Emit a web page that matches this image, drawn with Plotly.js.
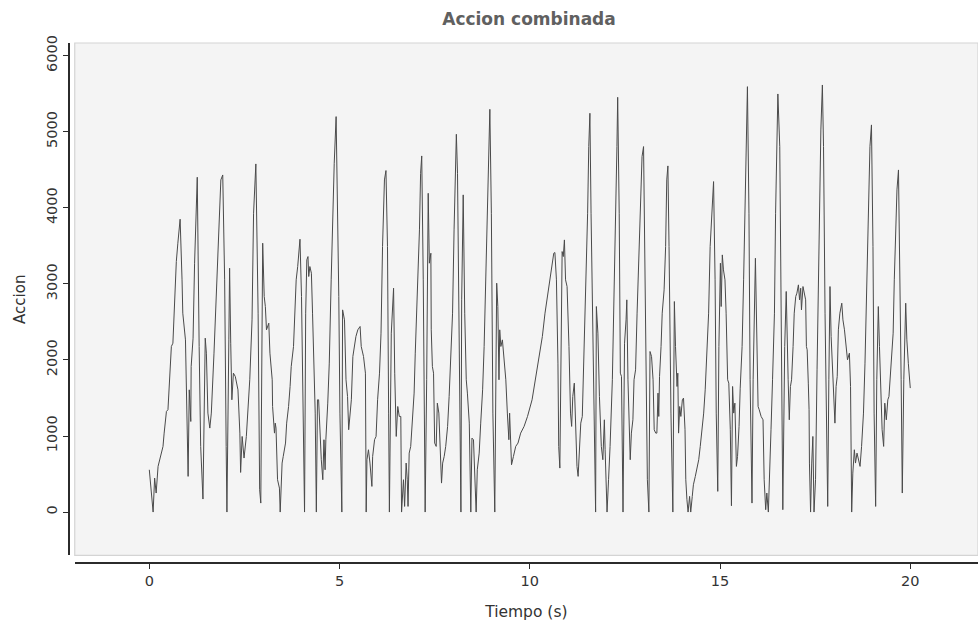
<!DOCTYPE html>
<html>
<head>
<meta charset="utf-8">
<script src="https://cdn.plot.ly/plotly-3.0.1.min.js"></script>
<style>html,body{margin:0;padding:0;background:#fff;}#chart{width:978px;height:625px;}</style>
</head>
<body>
<div id="chart"></div>
<script>
// Tiempo (s) and Accion values
const tiempo = [
0.00,0.05,0.10,0.14,0.18,0.23,0.27,0.36,0.39,0.45,0.49,0.53,0.58,0.62,0.67,0.71,0.75,0.81,0.86,0.88,
0.95,0.97,1.00,1.02,1.05,1.09,1.10,1.15,1.19,1.23,1.26,1.31,1.35,1.41,1.47,1.50,1.54,1.59,1.63,1.70,
1.76,1.82,1.88,1.93,1.98,2.02,2.04,2.09,2.11,2.14,2.17,2.21,2.26,2.33,2.38,2.40,2.44,2.49,2.55,2.64,
2.70,2.74,2.80,2.86,2.90,2.93,2.96,2.98,3.02,3.05,3.08,3.14,3.17,3.23,
3.24,3.29,3.31,3.33,3.37,3.42,3.44,3.49,3.52,3.58,3.61,3.66,3.70,3.73,3.79,3.82,3.86,3.90,3.93,3.96,
4.00,4.03,4.08,4.11,4.14,4.17,4.19,4.22,4.26,4.29,4.34,4.36,4.39,4.42,4.45,4.49,4.52,4.56,4.59,4.62,
4.64,4.69,4.73,4.78,4.82,4.86,4.91,4.94,4.98,5.01,5.06,5.08,5.13,5.17,5.21,5.24,5.28,5.31,5.35,5.39,
5.43,5.48,5.54,5.57,5.63,5.68,5.70,5.72,5.76,5.80,5.85,5.87,5.92,5.96,6.00,6.05,6.09,6.13,6.18,6.22,
6.26,6.29,6.31,6.36,6.40,6.42,6.45,6.49,6.53,6.57,
6.61,6.63,6.68,6.71,6.75,6.78,6.80,6.83,6.87,6.92,6.96,6.99,7.03,7.06,7.10,7.13,7.16,7.20,7.22,7.25,
7.29,7.33,7.36,7.40,7.41,7.44,7.47,7.50,7.54,7.57,7.61,7.64,7.68,7.71,7.75,7.79,7.84,7.88,7.92,7.97,
8.01,8.05,8.07,8.10,8.13,8.16,8.19,8.21,8.25,8.29,8.33,8.36,8.41,8.45,8.48,8.52,8.55,8.59,8.62,8.67,
8.71,8.76,8.80,8.84,8.89,8.92,8.95,8.99,9.03,9.08,9.11,9.13,9.16,9.19,9.21,9.24,9.28,9.33,9.37,9.41,
9.45,9.47,9.52,9.57,9.63,9.69,9.76,9.85,9.94,
10.06,10.15,10.24,10.33,10.40,10.46,10.52,10.57,10.63,10.66,10.70,10.74,10.76,10.79,10.82,10.85,10.88,10.91,10.94,10.98,
11.03,11.07,11.10,11.13,11.17,11.20,11.24,11.27,11.31,11.34,11.38,11.41,11.45,11.48,11.52,11.55,11.58,11.61,11.66,11.69,
11.73,11.75,11.79,11.83,11.88,11.92,11.96,11.98,12.01,12.03,12.07,12.11,12.17,12.21,12.25,12.29,12.31,12.35,12.38,12.41,
12.45,12.49,12.53,12.55,12.58,12.60,12.64,12.67,12.71,12.74,12.78,12.82,12.87,12.91,12.95,12.99,13.02,13.06,13.09,13.13,
13.16,13.20,13.24,13.27,13.31,
13.34,13.37,13.39,13.41,13.45,13.48,13.53,13.57,13.60,13.63,13.66,13.71,13.76,13.80,13.83,13.87,13.89,13.91,13.94,13.97,
14.01,14.04,14.08,14.10,14.13,14.16,14.20,14.23,14.27,14.30,14.35,14.39,14.44,14.48,14.53,14.57,14.61,14.66,14.70,14.74,
14.79,14.83,14.87,14.90,14.94,14.97,15.01,15.03,15.06,15.09,15.13,15.16,15.20,15.23,15.27,15.30,15.33,15.36,15.39,15.43,
15.46,15.50,15.53,15.58,15.62,15.65,15.69,15.72,15.76,15.79,15.84,15.87,15.93,15.96,16.00,16.03,16.08,16.13,16.16,16.20,
16.23,16.27,16.30,16.34,16.38,16.43,16.46,16.50,16.52,16.57,16.61,16.65,16.70,16.74,
16.79,16.82,16.85,16.88,16.92,16.95,16.99,17.02,17.06,17.09,17.12,17.14,17.18,17.21,17.25,17.27,17.29,17.32,17.34,17.35,
17.38,17.41,17.44,17.47,17.51,17.55,17.58,17.62,17.65,17.69,17.72,17.76,17.80,17.83,17.86,17.89,17.92,17.95,17.99,18.02,
18.05,18.08,18.11,18.15,18.20,18.23,18.27,18.32,18.35,18.40,18.43,18.46,18.49,18.53,18.56,18.60,18.63,18.68,18.72,18.77,
18.81,18.85,18.90,18.94,18.98,19.02,19.05,19.09,19.12,19.16,19.19,19.23,19.26,19.30,19.33,19.37,19.41,19.44,19.49,19.55,
19.58,19.62,19.65,19.69,19.72,19.76,19.79,19.83,19.88,19.91,19.95,19.98,20.00
];
const accion = [
556,315,0,447,250,600,688,863,1038,1323,1345,1651,2177,2220,2921,3294,3535,3850,3053,2615,
2264,1739,1169,469,1607,1191,1914,2286,3272,4016,4402,2177,863,171,2286,2089,1301,1104,1301,2089,
2834,3710,4367,4432,3053,863,0,2264,3206,2220,1476,1826,1783,1607,1038,521,994,710,994,1739,
2527,3929,4577,2615,293,118,3053,3535,2834,2702,2396,2483,2089,1739,
1388,1038,1169,1104,425,315,0,644,731,907,1169,1388,1651,1914,2177,2615,3053,3228,3447,3587,
2834,1739,0,2615,3316,3359,3097,3228,3140,2615,1739,1301,0,1476,1476,863,688,425,951,556,
951,1432,1958,3053,3929,4586,5199,4367,2834,1301,0,2658,2527,1739,1520,1082,1301,1476,2045,2177,
2308,2396,2440,2177,2045,1826,0,688,819,644,337,731,951,994,1476,1826,2352,3491,4367,4490,
3491,1301,0,2352,2702,2943,1826,994,1388,1257,
1257,0,425,74,644,425,74,775,863,1213,1564,2089,2615,3053,3710,4454,4682,3053,1301,0,
1739,4191,3272,3403,2396,1914,1826,907,863,1432,1301,819,381,644,731,863,1126,1520,1958,2615,
3710,4586,4967,4454,2834,1301,0,2790,4170,2615,1739,1564,1169,0,972,951,512,0,556,775,
1169,1607,2177,3053,4148,5024,5295,3929,1301,0,2177,3009,2702,1739,2396,2177,2264,1958,1739,1301,
951,1301,622,731,863,907,1038,1126,1257,
1476,1739,2002,2308,2615,2834,3053,3228,3403,3412,3053,1958,863,578,2615,3425,3359,3578,3053,2965,
2177,1301,1126,1520,1695,1301,600,469,951,1169,1257,1826,2264,3053,3929,4805,5243,3929,2177,863,
0,2702,2352,1520,863,688,1213,819,425,0,425,863,1739,2615,3710,4805,5453,3929,1826,1783,
0,2220,2527,2790,1739,1301,688,1038,1213,1739,1870,2615,3491,4148,4673,4805,3491,1739,425,0,
2111,2045,1739,1082,1038,
1038,1564,1257,1783,2177,2615,2921,3491,4367,4551,3491,1301,0,2768,2177,1651,1826,1038,1388,1257,
1476,1498,1082,425,162,0,206,0,206,359,469,556,688,863,1082,1301,1607,2177,2615,3491,
4016,4345,3053,1301,272,2177,3272,2702,3381,3184,3053,2615,1739,1695,1082,83,1651,1301,1432,600,
731,1126,1629,2177,3053,3929,4805,5593,3929,1739,118,1739,3337,2177,1388,1345,1257,1213,425,31,
250,0,644,1082,1739,2615,3929,5024,5497,4805,2615,31,2177,2900,
1739,1213,1651,1739,2177,2615,2834,2878,2987,2790,2943,2658,2965,2878,2790,2177,2133,1695,1345,644,
0,644,994,0,425,1870,2834,3929,5024,5615,4805,2615,644,74,1739,2965,2308,1958,1476,1169,
1651,1783,2396,2615,2746,2527,2396,2177,2002,2089,1651,0,512,819,644,775,688,600,863,1301,
1958,2834,3929,4805,5090,3491,1301,74,1739,2702,2177,1520,1082,863,1432,1213,1476,1520,1958,2352,
3053,3710,4236,4498,3491,1739,250,1739,2746,2264,1950,1780,1630
];
const xTicks = [0, 5, 10, 15, 20];
const yTicks = [0, 1000, 2000, 3000, 4000, 5000, 6000];
const chartTitle = 'Accion combinada';
const xTitle = 'Tiempo (s)';
const yTitle = 'Accion';

const FONT = 'DejaVu Sans, Verdana, sans-serif';

const trace = {
  x: tiempo, y: accion, type: 'scatter', mode: 'lines',
  line: {color: '#4a4a4a', width: 1},
  hoverinfo: 'skip', showlegend: false
};

const layout = {
  width: 978, height: 625,
  margin: {l: 68, r: 0, t: 43, b: 63, pad: 0},
  paper_bgcolor: '#ffffff',
  plot_bgcolor: '#f4f4f4',
  font: {family: FONT, color: '#333333'},
  title: {
    text: '<b>' + chartTitle + '</b>',
    font: {family: FONT, size: 17, color: '#606060'},
    x: 0.5066, xref: 'paper', xanchor: 'center',
    y: 0.970, yref: 'container', yanchor: 'middle'
  },
  xaxis: {
    domain: [0.0074, 1],
    range: [-1.96, 21.78],
    anchor: 'free', position: 0,
    showline: true, linecolor: '#2b2b2b', linewidth: 1.5,
    ticks: 'outside', ticklen: 5, tickwidth: 1, tickcolor: '#2b2b2b',
    tickvals: xTicks, ticktext: xTicks.map(String),
    tickfont: {family: FONT, size: 14.5, color: '#333333'},
    showgrid: false, zeroline: false,
    title: {text: xTitle, font: {family: FONT, size: 15.5, color: '#333333'}, standoff: 18}
  },
  yaxis: {
    domain: [0.0127, 1],
    range: [-570, 6167],
    anchor: 'free', position: 0,
    showline: true, linecolor: '#2b2b2b', linewidth: 1.5,
    ticks: 'outside', ticklen: 5, tickwidth: 1, tickcolor: '#2b2b2b',
    tickvals: yTicks, ticktext: yTicks.map(String),
    tickangle: -90,
    tickfont: {family: FONT, size: 14.5, color: '#333333'},
    showgrid: false, zeroline: false,
    title: {text: yTitle, font: {family: FONT, size: 15, color: '#333333'}, standoff: 13}
  },
  shapes: [{
    type: 'rect', xref: 'x domain', yref: 'y domain',
    x0: 0, x1: 1, y0: 0, y1: 1,
    line: {color: '#d4d4d4', width: 1.2}, fillcolor: 'rgba(0,0,0,0)', layer: 'below'
  }],
  hovermode: false,
  showlegend: false
};

Plotly.newPlot('chart', [trace], layout, {staticPlot: true, displayModeBar: false});
</script>
</body>
</html>
